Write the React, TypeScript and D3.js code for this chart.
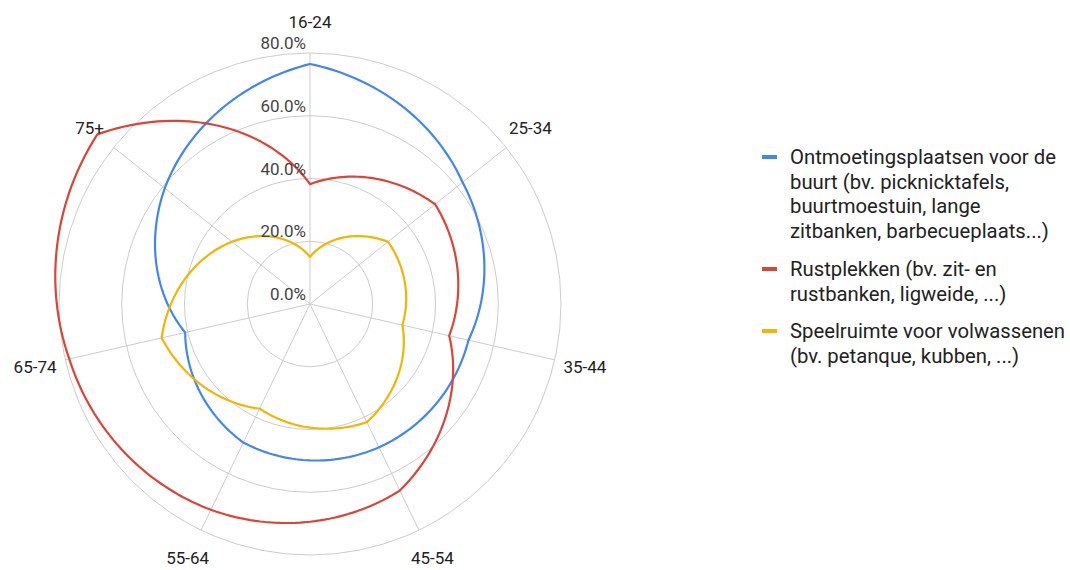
import React from 'react';
import * as d3 from 'd3';

const categories = ['16-24', '25-34', '35-44', '45-54', '55-64', '65-74', '75+'];
const blueValues = [76.5, 62.2, 51.8, 50.7, 49.0, 40.8, 59.2];
const redValues = [38.2, 51.0, 45.5, 66.0, 72.8, 78.7, 86.7];
const yellowValues = [15.0, 31.8, 30.2, 41.8, 37.0, 48.5, 31.8];
const tickValues = [0, 20, 40, 60, 80];

const seriesNames = ['Ontmoetingsplaatsen', 'Rustplekken', 'Speelruimte'];
const seriesColors = ['#4285f4', '#db4437', '#f4b400'];
const legendLines = [
  ['Ontmoetingsplaatsen voor de', 'buurt (bv. picknicktafels,', 'buurtmoestuin, lange', 'zitbanken, barbecueplaats...)'],
  ['Rustplekken (bv. zit- en', 'rustbanken, ligweide, ...)'],
  ['Speelruimte voor volwassenen', '(bv. petanque, kubben, ...)'],
];

const W = 1070;
const H = 570;
const cx = 310;
const cy = 304;
const R = 251;
const FONT = 'Roboto, Arial, sans-serif';

export default function App() {
  const n = categories.length;
  const angle = d3.scaleLinear().domain([0, n]).range([0, 2 * Math.PI]);
  const radius = d3.scaleLinear().domain([0, 80]).range([0, R]);
  const allSeries = [blueValues, redValues, yellowValues];

  const polarPath = (vals: number[]) => {
    const pts: [number, number][] = [];
    const steps = 40;
    for (let i = 0; i < n; i++) {
      const v0 = vals[i];
      const v1 = vals[(i + 1) % n];
      for (let s = 0; s < steps; s++) {
        const t = s / steps;
        pts.push([angle(i + t), radius(v0 + (v1 - v0) * t)]);
      }
    }
    return d3
      .lineRadial<[number, number]>()
      .angle((d) => d[0])
      .radius((d) => d[1])
      .curve(d3.curveLinearClosed)(pts);
  };

  const labelR = 282;
  const legendX = 762;
  const legendStarts = [157, 269, 331];
  const lineH = 24.7;

  return (
    <svg
      width={W}
      height={H}
      style={{ position: 'absolute', left: 0, top: 0, background: '#fff' }}
      fontFamily={FONT}
    >
      <g>
        {tickValues.slice(1).map((t) => (
          <circle key={t} cx={cx} cy={cy} r={radius(t)} fill="none" stroke="#cccccc" strokeWidth={1} />
        ))}
        {categories.map((c, i) => {
          const a = angle(i);
          return (
            <line
              key={c}
              x1={cx}
              y1={cy}
              x2={cx + R * Math.sin(a)}
              y2={cy - R * Math.cos(a)}
              stroke="#cccccc"
              strokeWidth={1}
            />
          );
        })}
      </g>
      <g transform={`translate(${cx},${cy})`}>
        {allSeries.map((vals, k) => (
          <path key={seriesNames[k]} d={polarPath(vals) || ''} fill="none" stroke={seriesColors[k]} strokeWidth={2.2} strokeLinejoin="round" />
        ))}
      </g>
      {tickValues.map((t) => (
        <text key={t} x={cx - 4} y={cy - radius(t) - 4} textAnchor="end" fontSize={17} fill="#444">
          {d3.format('.1f')(t) + '%'}
        </text>
      ))}
      {categories.map((c, i) => {
        const a = angle(i);
        return (
          <text
            key={c}
            x={cx + labelR * Math.sin(a)}
            y={cy - labelR * Math.cos(a)}
            textAnchor="middle"
            dominantBaseline="central"
            fontSize={17}
            fill="#222"
          >
            {c}
          </text>
        );
      })}
      {legendLines.map((lines, k) => (
        <g key={k}>
          <rect x={legendX} y={legendStarts[k] - 2} width={15} height={4} fill={seriesColors[k]} />
          {lines.map((ln, j) => (
            <text key={j} x={790} y={legendStarts[k] + j * lineH} dominantBaseline="central" fontSize={20.3} fill="#222">
              {ln}
            </text>
          ))}
        </g>
      ))}
    </svg>
  );
}
